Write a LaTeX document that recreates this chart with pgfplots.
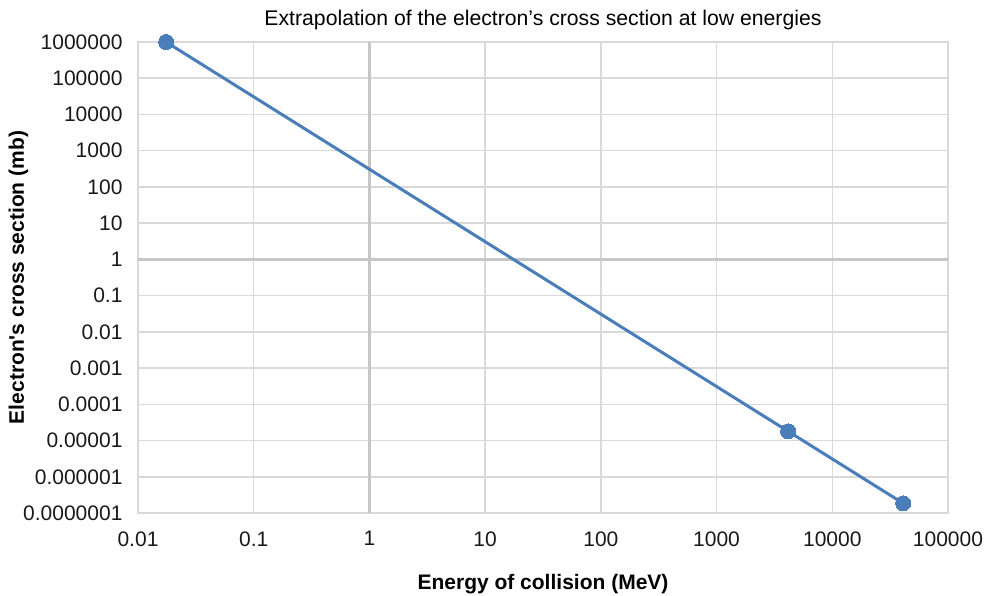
\documentclass[border=0pt]{standalone}
\usepackage{pgfplots}
\pgfplotsset{compat=1.18}
\usepackage{fontspec}
\setmainfont{Liberation Sans}
\definecolor{lineblue}{HTML}{4A7EBB}
\definecolor{gridgray}{HTML}{D9D9D9}
\definecolor{axgray}{HTML}{C6C6C6}
\newcommand{\tl}{\fontsize{21}{25}\selectfont}
\begin{document}
\begin{tikzpicture}[x=1pt,y=1pt]
\path[use as bounding box] (0,0) rectangle (988,595);
\begin{axis}[
  at={(138pt,82pt)}, anchor=south west,
  scale only axis, width=810pt, height=471pt,
  xmode=log, ymode=log,
  xmin=0.01, xmax=100000, ymin=1e-7, ymax=1e6,
  xtick={0.01,0.1,1,10,100,1000,10000,100000},
  xticklabels={\tl 0.01,\tl 0.1,\tl 1,\tl 10,\tl 100,\tl 1000,\tl 10000,\tl 100000},
  ytick={1e-7,1e-6,1e-5,1e-4,1e-3,1e-2,1e-1,1,10,100,1000,10000,100000,1000000},
  yticklabels={\tl 0.0000001,\tl 0.000001,\tl 0.00001,\tl 0.0001,\tl 0.001,\tl 0.01,\tl 0.1,\tl 1,\tl 10,\tl 100,\tl 1000,\tl 10000,\tl 100000,\tl 1000000},
  minor tick num=0, minor xtick={}, minor ytick={},
  xminorgrids=false, yminorgrids=false,
  grid=major, major grid style={gridgray, line width=1.5pt},
  axis line style={gridgray, line width=1.5pt},
  tick style={draw=none},
  tick label style={font=\tl, text=black!90},
  xticklabel style={yshift=-15pt},
  yticklabel style={xshift=-12pt},
  /pgf/number format/assume math mode=true,
  title={Extrapolation of the electron’s cross section at low energies},
  title style={font=\fontsize{21.2}{25}\selectfont, at={(0.5,1)}, yshift=3pt},
  xlabel={\textbf{Energy of collision (MeV)}},
  ylabel={\textbf{Electron\textquotesingle s cross section (mb)}},
  label style={font=\fontsize{21}{25}\selectfont},
  xlabel style={yshift=-21pt},
  ylabel style={yshift=-12pt},
  clip=false,
]
\addplot[axgray, line width=3pt] coordinates {(1,1e-7) (1,1e6)};
\addplot[axgray, line width=3pt] coordinates {(0.01,1) (100000,1)};
\addplot[lineblue, line width=3pt, mark=*, mark size=7.5pt, mark options={fill=lineblue, draw=lineblue, line width=0pt}]
  coordinates {(0.0175,1e6) (4150,1.8e-5) (41000,1.85e-7)};
\end{axis}
\end{tikzpicture}
\end{document}
